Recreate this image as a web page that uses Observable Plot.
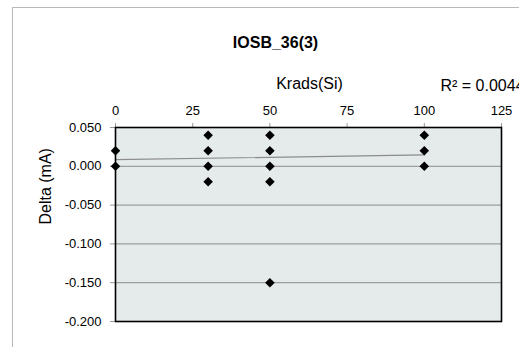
<!DOCTYPE html>
<html>
<head>
<meta charset="utf-8">
<script src="https://cdn.jsdelivr.net/npm/d3@7"></script>
<script src="https://cdn.jsdelivr.net/npm/@observablehq/plot@0.6"></script>
<style>
  html, body { margin: 0; padding: 0; background: #fff; overflow: hidden; }
  #wrap { position: relative; width: 519px; height: 347px; overflow: hidden; }
  #border { position: absolute; left: 12px; top: 7px; width: 700px; height: 500px; border: 1px solid #b8b8b8; }
  #chart { position: absolute; left: 0; top: 0; }
</style>
</head>
<body>
<div id="wrap"><div id="border"></div><div id="chart"></div></div>
<script>
const title = "IOSB_36(3)";
const xLabel = "Krads(Si)";
const yLabel = "Delta (mA)";
const r2Label = "R² = 0.0044";
const doseX = [0, 0, 30, 30, 30, 30, 50, 50, 50, 50, 50, 100, 100, 100];
const deltaY = [0.02, 0.0, 0.04, 0.02, 0.0, -0.02, 0.04, 0.02, 0.0, -0.02, -0.15, 0.04, 0.02, 0.0];
const trendX = [0, 100];
const trendY = [0.0086, 0.0146];
const xTicks = [0, 25, 50, 75, 100, 125];
const yTicks = [0.05, 0, -0.05, -0.1, -0.15, -0.2];

const points = doseX.map((x, i) => ({x, y: deltaY[i]}));
const trend = trendX.map((x, i) => ({x, y: trendY[i]}));
const font = "Liberation Sans, Arial, sans-serif";

const chart = Plot.plot({
  width: 519,
  height: 347,
  marginLeft: 115,
  marginRight: 18,
  marginTop: 127,
  marginBottom: 26,
  style: {fontFamily: font, fontSize: "13px", color: "#000", background: "transparent", overflow: "visible"},
  x: {domain: [0, 125]},
  y: {domain: [-0.2, 0.05]},
  marks: [
    Plot.frame({fill: "#e5eaea", stroke: "none"}),
    Plot.gridY(yTicks, {stroke: "#8c8c8c", strokeOpacity: 1, strokeWidth: 1}),
    Plot.axisX(xTicks, {anchor: "top", tickSize: 5, tickPadding: 8, stroke: "#999", label: null, fontSize: 13}),
    Plot.axisY(yTicks, {anchor: "left", tickSize: 5, tickPadding: 9, stroke: "#999", label: null, tickFormat: d => d.toFixed(3), fontSize: 13}),
    Plot.line(trend, {x: "x", y: "y", stroke: "#8c8c8c", strokeWidth: 1.2}),
    Plot.frame({stroke: "#000", strokeWidth: 1.6}),
    Plot.dot(points, {x: "x", y: "y", symbol: "diamond2", r: 4.3, fill: "#000", stroke: "none"}),
    Plot.text([title], {frameAnchor: "top", dy: -91, dx: -33, text: d => d, fontWeight: "bold", fontSize: 16, fontFamily: font}),
    Plot.text([xLabel], {frameAnchor: "top", dy: -50, dx: 1, text: d => d, fontSize: 16, fontFamily: font}),
    Plot.text([r2Label], {frameAnchor: "top-right", dy: -48, dx: -61, textAnchor: "start", text: d => d, fontSize: 16, fontFamily: font}),
    Plot.text([yLabel], {frameAnchor: "left", dx: -70, rotate: -90, text: d => d, fontSize: 16, fontFamily: font})
  ]
});
document.getElementById("chart").appendChild(chart);
</script>
</body>
</html>
